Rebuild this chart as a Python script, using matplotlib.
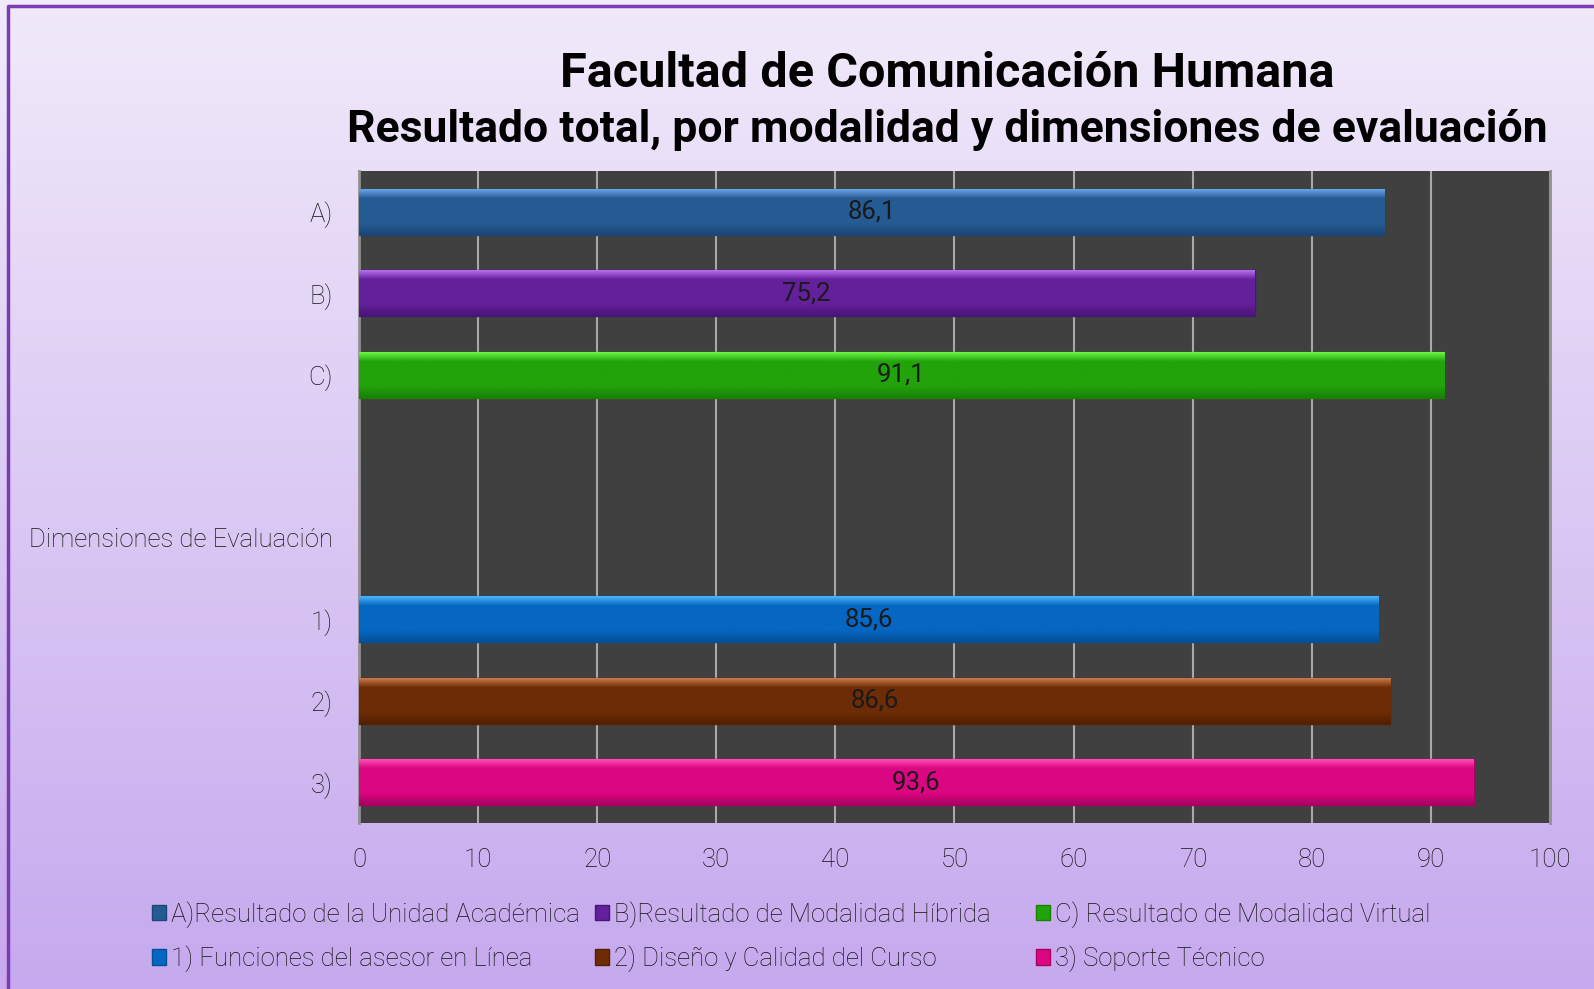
import numpy as np
import matplotlib.pyplot as plt
from matplotlib.colors import LinearSegmentedColormap

plt.rcParams['font.family'] = ['Roboto', 'DejaVu Sans']

categorias = ['A)', 'B)', 'C)', '', 'Dimensiones de Evaluación', '1)', '2)', '3)']
valores = [86.1, 75.2, 91.1, None, None, 85.6, 86.6, 93.6]
leyenda = ['A)Resultado de la Unidad Académica', 'B)Resultado de Modalidad Híbrida',
           'C) Resultado de Modalidad Virtual', '1) Funciones del asesor en Línea',
           '2) Diseño y Calidad del Curso', '3) Soporte Técnico']
# (claro, medio, oscuro) por barra
colores = [('#6aa3e6', '#255b93', '#1c4677'),
           ('#b86df0', '#63209a', '#4a1478'),
           ('#6cf545', '#22a30a', '#188005'),
           None,
           None,
           ('#4ab4fa', '#0567c2', '#044f98'),
           ('#c8794a', '#6d2c05', '#551f02'),
           ('#ff4cb8', '#db0681', '#a80060')]
texto = '#151515'

fig = plt.figure(figsize=(15.94, 9.89), dpi=100)

# fondo degradado de la figura
bg = fig.add_axes([0, 0, 1, 1], zorder=-10)
grad = np.linspace(0, 1, 256).reshape(-1, 1)
bg_cmap = LinearSegmentedColormap.from_list('bg', ['#c6a9ee', '#f1eafa'])
bg.imshow(grad, aspect='auto', cmap=bg_cmap, origin='lower', extent=[0, 1, 0, 1])
bg.plot([0.005, 0.005, 1.0], [0.0, 0.994, 0.994], color='#7a3cb0', lw=2.5)
bg.set_xlim(0, 1)
bg.set_ylim(0, 1)
bg.axis('off')

ax = fig.add_axes([0.2252, 0.1678, 0.7472, 0.6593])
ax.set_facecolor('#404040')
y = np.arange(len(categorias))

for i, v in enumerate(valores):
    if v is None:
        continue
    claro, medio, oscuro = colores[i]
    barra = ax.barh(y[i], v, height=0.56, color=medio, edgecolor=oscuro, lw=1, zorder=3)[0]
    cmap = LinearSegmentedColormap.from_list('b%d' % i, [(0, claro), (0.2, medio), (0.75, medio), (1, oscuro)])
    g = np.linspace(0, 1, 64).reshape(-1, 1)
    im = ax.imshow(g, aspect='auto', cmap=cmap, zorder=4,
                   extent=[0, v, y[i] + 0.28, y[i] - 0.28])
    im.set_clip_path(barra)
    ax.text(v / 2, y[i], ('%.1f' % v).replace('.', ','), ha='center', va='center',
            fontsize=18.5, color='#1a1a1a', zorder=5)

ax.set_xlim(0, 100)
ax.set_ylim(len(categorias) - 0.5, -0.5)
ax.set_xticks(np.arange(0, 101, 10))
ax.set_yticks(y)
ax.set_yticklabels(categorias)
ax.grid(axis='x', color='#a8a8a8', lw=1.5, zorder=1)
ax.tick_params(axis='both', length=0, labelsize=18.5, colors=texto)
for lab in ax.get_xticklabels() + ax.get_yticklabels():
    lab.set_fontweight('light')
ax.tick_params(axis='y', pad=19)
ax.tick_params(axis='x', pad=18)
for s in ['top', 'bottom']:
    ax.spines[s].set_visible(False)
for s in ['left', 'right']:
    ax.spines[s].set_color('#909090')
    ax.spines[s].set_linewidth(2)

fig.text(0.5945, 0.925, 'Facultad de Comunicación Humana', ha='center', va='center',
         fontsize=35, fontweight='bold', color='black')
fig.text(0.5945, 0.869, 'Resultado total, por modalidad y dimensiones de evaluación',
         ha='center', va='center', fontsize=32, fontweight='bold', color='black')

# leyenda: una por columna
h = [plt.Rectangle((0, 0), 1, 1, facecolor=c[1], edgecolor=c[2]) for c in colores if c is not None]
columnas_x = [0.087, 0.365, 0.642]
for c, x0 in enumerate(columnas_x):
    leg = fig.legend([h[c], h[c + 3]], [leyenda[c], leyenda[c + 3]], frameon=False,
                     loc='center left', bbox_to_anchor=(x0, 0.053), fontsize=18.5,
                     handlelength=0.55, handleheight=0.55, handletextpad=0.2,
                     labelspacing=0.7, labelcolor=texto, borderpad=0)
    for t in leg.get_texts():
        t.set_fontweight('light')

fig.savefig('out.png', dpi=100)
